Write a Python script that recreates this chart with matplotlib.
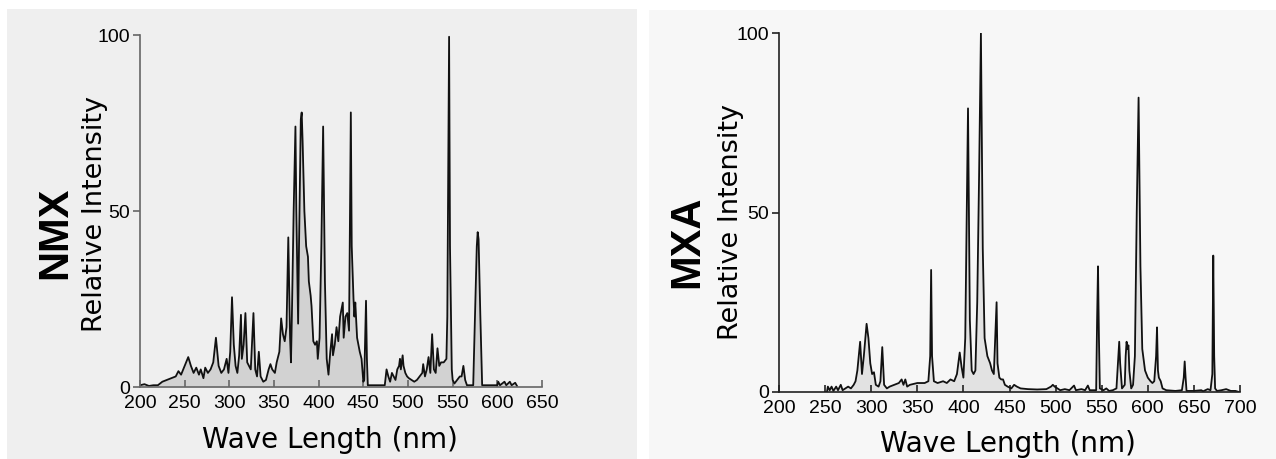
import matplotlib
matplotlib.use('Agg')
import matplotlib.pyplot as plt
from matplotlib.patches import Rectangle

# ---- NMX spectrum (wavelength nm, relative intensity) ----
nmx_wl = [200, 205, 210, 215, 220, 225, 230, 235, 240, 243, 246, 250, 254, 257, 260, 263, 266, 268, 271, 273,
          276, 279, 282, 285, 288, 291, 294, 297, 299, 301, 303, 305, 307, 309, 311, 313, 314, 316, 318, 320,
          322, 324, 327, 329, 331, 333, 335, 338, 341, 344, 346, 348, 351, 353, 356, 358, 360, 362, 364, 366,
          368, 369, 370, 372, 374, 375, 377, 378, 380, 381, 382, 384, 386, 388, 389, 391, 392, 394, 396, 398,
          399, 401, 403, 405, 407, 409, 411, 413, 415, 416, 418, 420, 422, 424, 427, 428, 430, 432, 434, 436,
          437, 439, 440, 441, 443, 446, 448, 450, 451, 453, 454, 455, 470, 474, 476, 478, 480, 482, 484, 486,
          488, 490, 491, 492, 494, 495, 497, 499, 501, 504, 507, 510, 513, 516, 517, 519, 521, 523, 525, 527,
          529, 531, 533, 535, 537, 540, 543, 544, 546, 547, 549, 550, 552, 555, 558, 560, 562, 564, 566, 573,
          575, 577, 578, 579, 581, 583, 600, 601, 603, 608, 610, 614, 616, 620, 622]
nmx_int = [0.5, 0.8, 0.3, 0.5, 0.5, 1.5, 2, 2.5, 3, 4.5, 3.5, 6, 8.5, 6, 4, 5.5, 3.5, 5, 2.5, 5.5,
           4, 5, 7, 14, 6, 4, 5, 8, 4, 10, 25.5, 12, 6, 4, 9, 20.5, 8, 12, 21, 7,
           6, 5, 21, 5, 3, 10, 3, 1.5, 2, 5, 6.5, 5, 4, 7, 10, 19.5, 15, 13, 17, 42.5,
           14, 7, 20, 50, 74, 50, 18, 40, 76, 78, 70, 50, 40, 37, 30, 26, 23, 13, 12, 13,
           8, 14, 40, 74, 30, 8, 3.5, 10, 15, 9, 12, 17, 13, 20, 24, 14, 20, 21, 16, 78,
           40, 25, 20, 24, 14, 10, 8, 1.5, 2, 24.5, 8, 0.5, 0.5, 0.5, 5, 3, 1.5, 4, 3, 2,
           5, 6, 8, 5, 9, 6, 4, 3, 2.5, 2, 1.5, 2, 3, 4, 6.5, 3, 5, 8.5, 4, 15,
           5, 4, 11, 6, 7, 7, 8, 20, 99.5, 40, 5, 2, 1, 2, 3, 3, 6, 2, 0.5, 0.5,
           20, 40, 44, 42, 20, 0.5, 0.5, 1.5, 0.5, 1.5, 0.5, 1.5, 0.5, 1.2, 0.3]

# ---- MXA spectrum ----
mxa_wl = [250, 252, 253, 255, 257, 259, 262, 264, 267, 269, 272, 275, 278, 281, 283, 285, 288, 290, 292, 295,
          297, 299, 301, 303, 305, 308, 310, 312, 314, 317, 320, 325, 330, 333, 335, 337, 339, 342, 350, 358,
          362, 364, 365, 366, 368, 372, 378, 382, 386, 390, 393, 396, 398, 400, 402, 405, 407, 409, 411, 413,
          415, 417, 419, 421, 423, 426, 429, 431, 433, 436, 437, 439, 441, 443, 445, 448, 452, 455, 458, 462,
          470, 480, 490, 495, 497, 499, 502, 505, 510, 515, 520, 522, 528, 532, 535, 537, 544, 545, 546, 547,
          548, 552, 555, 558, 562, 566, 568, 569, 570, 572, 575, 576, 577, 578, 579, 580, 582, 584, 586, 588,
          590, 592, 594, 597, 600, 603, 605, 607, 609, 610, 611, 612, 614, 616, 620, 630, 637, 639, 640, 641,
          642, 650, 658, 660, 665, 668, 670, 671, 672, 673, 675, 680, 685, 690, 695, 699]
mxa_int = [0, 0, 1.5, 0.5, 1.5, 0.3, 1.5, 0.5, 2, 0.5, 1, 1.5, 1, 2, 3, 6, 14, 5, 10, 19,
           15, 8, 5, 5.5, 2, 1.5, 3, 12.5, 2, 1, 1.5, 2, 2.5, 3.5, 2, 3.5, 1.5, 2, 2.5, 2.5,
           3, 10, 34, 10, 3, 2.5, 3, 2.5, 3.5, 3, 5, 11, 7, 4, 15, 79, 20, 6, 5, 6,
           25, 60, 100, 40, 15, 10, 8, 6, 5, 25, 8, 4, 3.5, 3.5, 2, 1.5, 1, 2, 1.5, 1,
           0.8, 0.7, 0.8, 1.5, 2, 1.5, 1, 0.5, 0.8, 0.5, 1.8, 0.5, 0.8, 0.5, 1.8, 0.5, 0.5, 20, 35, 15,
           1, 0.5, 1, 0.3, 0.5, 1, 10, 14, 8, 1, 2, 10, 14, 12, 13, 6, 1, 2, 10, 50,
           82, 35, 12, 6, 4, 3, 2.5, 3, 10, 18, 6, 4, 3, 1, 0.5, 0.3, 0.5, 4, 8.5, 4,
           0.3, 0.3, 0.5, 0.2, 0.8, 0.5, 5, 38, 10, 1, 0.3, 0.5, 0.8, 0.3, 0.3, 0]

nmx_xticks = [200, 250, 300, 350, 400, 450, 500, 550, 600, 650]
mxa_xticks = [200, 250, 300, 350, 400, 450, 500, 550, 600, 650, 700]
yticks = [0, 50, 100]

W, H = 1276, 459
fig = plt.figure(figsize=(W / 100, H / 100), dpi=100)
fig.patch.set_facecolor('white')

# panel backgrounds (scanned pages)
fig.patches.append(Rectangle((7 / W, 0), 630 / W, 1 - 9 / H, transform=fig.transFigure,
                             facecolor='#efefef', edgecolor='none', zorder=-5))
fig.patches.append(Rectangle((649 / W, 0), 627 / W, 1 - 10 / H, transform=fig.transFigure,
                             facecolor='#f7f7f7', edgecolor='none', zorder=-5))


def panel(box, wl, inten, xmax, xticks, name, name_xy, ylab_xy, xlab_xy, fill, axcol):
    ax = fig.add_axes(box)
    ax.set_zorder(2)
    ax.set_facecolor('none')
    ax.fill_between(wl, inten, 0, color=fill, lw=0)
    ax.plot(wl, inten, color='#111111', lw=1.3)
    ax.set_xlim(200, xmax)
    ax.set_ylim(0, 100)
    ax.set_xticks(xticks)
    ax.set_yticks(yticks)
    for s in ['top', 'right']:
        ax.spines[s].set_visible(False)
    for s in ['left', 'bottom']:
        ax.spines[s].set_color(axcol)
        ax.spines[s].set_linewidth(1.2)
    ax.tick_params(axis='x', direction='in', length=5, width=1.2, color=axcol, pad=6,
                   labelsize=14, labelfontfamily='Liberation Sans')
    ax.tick_params(axis='y', direction='out', length=5, width=1.2, color=axcol, pad=2,
                   labelsize=14, labelfontfamily='Liberation Sans')
    fig.text(name_xy[0] / W, 1 - name_xy[1] / H, name, rotation=90, ha='center', va='center',
             fontsize=30, fontweight='bold', family='Liberation Sans')
    fig.text(ylab_xy[0] / W, 1 - ylab_xy[1] / H, 'Relative Intensity', rotation=90,
             ha='center', va='center', fontsize=19.5, family='DejaVu Sans')
    fig.text(xlab_xy[0] / W, 1 - xlab_xy[1] / H, 'Wave Length (nm)',
             ha='center', va='center', fontsize=20, family='DejaVu Sans')
    return ax


panel([140 / W, 1 - 387 / H, 402 / W, 352 / H], nmx_wl, nmx_int, 650, nmx_xticks,
      'NMX', (55, 233), (95, 214), (330, 440), '#d2d2d2', '#666666')
panel([779 / W, 1 - 392 / H, 461 / W, 359 / H], mxa_wl, mxa_int, 700, mxa_xticks,
      'MXA', (687, 242), (731, 222), (1008, 444), '#e2e2e2', '#222222')

fig.savefig('out.png', dpi=100)
